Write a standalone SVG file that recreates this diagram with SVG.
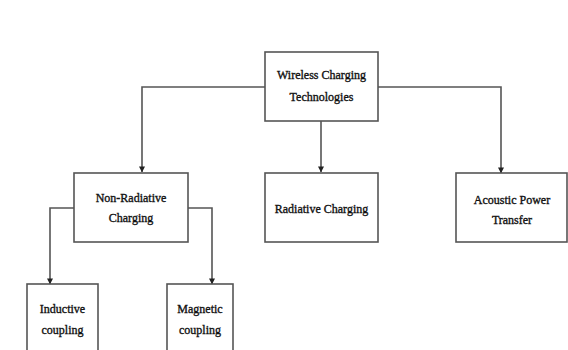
<svg xmlns="http://www.w3.org/2000/svg" width="568" height="350" viewBox="0 0 568 350">
<style>
.box{fill:#fff;stroke:#555;stroke-width:1.6}
.lbl{font-family:"Liberation Serif","Times New Roman",serif;font-size:12px;fill:#111;stroke:#111;stroke-width:0.35;text-anchor:middle}
.con{fill:none;stroke:#555;stroke-width:1.6}
</style>
<defs>
<marker id="ah" viewBox="0 0 8 8" refX="7.5" refY="4" markerWidth="6" markerHeight="6" orient="auto" markerUnits="userSpaceOnUse">
<path d="M0,0 L8,4 L0,8 z" fill="#222"/>
</marker>
</defs>
<rect width="568" height="350" fill="#fff"/>
<g id="connectors">
<path class="con" d="M265,87 H142 V172" marker-end="url(#ah)"/>
<path class="con" d="M321,121 V172" marker-end="url(#ah)"/>
<path class="con" d="M378,87 H501 V173" marker-end="url(#ah)"/>
<path class="con" d="M74,208 H50 V284" marker-end="url(#ah)"/>
<path class="con" d="M188,208 H212 V284" marker-end="url(#ah)"/>
</g>
<g id="wireless">
<rect class="box" x="265" y="52" width="113" height="69"/>
<text class="lbl" x="321.5" y="79">Wireless Charging</text>
<text class="lbl" x="321.5" y="101">Technologies</text>
</g>
<g id="nonradiative">
<rect class="box" x="74" y="173" width="114" height="69"/>
<text class="lbl" x="131" y="202">Non-Radiative</text>
<text class="lbl" x="131" y="222">Charging</text>
</g>
<g id="radiative">
<rect class="box" x="265" y="173" width="113" height="69"/>
<text class="lbl" x="321.5" y="213">Radiative Charging</text>
</g>
<g id="acoustic">
<rect class="box" x="456" y="173" width="111" height="69"/>
<text class="lbl" x="512" y="204">Acoustic Power</text>
<text class="lbl" x="512" y="224">Transfer</text>
</g>
<g id="inductive">
<rect class="box" x="27" y="284" width="71" height="80"/>
<text class="lbl" x="62.5" y="313">Inductive</text>
<text class="lbl" x="62.5" y="334">coupling</text>
</g>
<g id="magnetic">
<rect class="box" x="167" y="284" width="66" height="80"/>
<text class="lbl" x="200" y="313">Magnetic</text>
<text class="lbl" x="200" y="334">coupling</text>
</g>
</svg>
